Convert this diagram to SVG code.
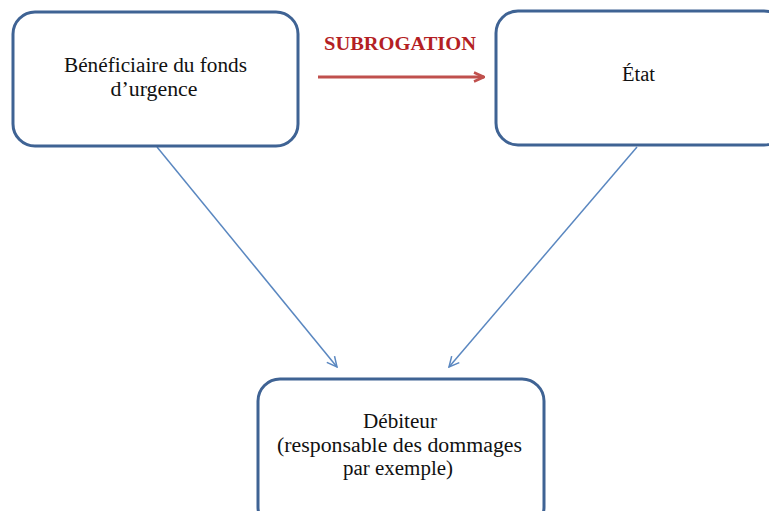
<svg xmlns="http://www.w3.org/2000/svg" width="769" height="511" viewBox="0 0 769 511">
<defs>
<style>
.box{fill:#fff;stroke:#3F6394;stroke-width:3}
.t{font-family:"Liberation Serif","DejaVu Serif",serif;font-size:20px;fill:#111;text-anchor:middle}
.lab{font-family:"Liberation Serif","DejaVu Serif",serif;font-size:18.5px;font-weight:bold;fill:#B41F24;text-anchor:middle}
.c{fill:none;stroke:#5A87C0;stroke-width:1.5}
.r{fill:none;stroke:#C0504D;stroke-width:3}
</style>
<marker id="ab" viewBox="0 0 12 12" refX="11" refY="6" markerWidth="12" markerHeight="12" markerUnits="userSpaceOnUse" orient="auto">
<path d="M1,1 L11,6 L1,11" fill="none" stroke="#5A87C0" stroke-width="1.5"/>
</marker>
<marker id="ar" viewBox="0 0 12 12" refX="11" refY="6" markerWidth="12" markerHeight="12" markerUnits="userSpaceOnUse" orient="auto">
<path d="M1,1.5 L11,6 L1,10.5" fill="none" stroke="#C0504D" stroke-width="2.5"/>
</marker>
</defs>
<rect width="769" height="511" fill="#fff"/>
<g id="connectors">
<line class="c" x1="157" y1="147" x2="337" y2="367" marker-end="url(#ab)"/>
<line class="c" x1="637" y1="147" x2="449" y2="367" marker-end="url(#ab)"/>
<line class="r" x1="318" y1="77" x2="484" y2="77" marker-end="url(#ar)"/>
<text class="lab" x="400" y="50" textLength="152" lengthAdjust="spacingAndGlyphs">SUBROGATION</text>
</g>
<g id="beneficiaire">
<rect class="box" x="13" y="12" width="285" height="134" rx="22"/>
<text class="t" x="155.5" y="72" textLength="183" lengthAdjust="spacingAndGlyphs">Bénéficiaire du fonds</text>
<text class="t" x="154" y="96" textLength="87" lengthAdjust="spacingAndGlyphs">d’urgence</text>
</g>
<g id="etat">
<rect class="box" x="496" y="11" width="290" height="134" rx="22"/>
<text class="t" x="638.5" y="81" textLength="33" lengthAdjust="spacingAndGlyphs">État</text>
</g>
<g id="debiteur">
<rect class="box" x="258" y="379" width="286" height="150" rx="22"/>
<text class="t" x="400" y="428" textLength="74" lengthAdjust="spacingAndGlyphs">Débiteur</text>
<text class="t" x="399.5" y="452" textLength="245" lengthAdjust="spacingAndGlyphs">(responsable des dommages</text>
<text class="t" x="398" y="475" textLength="110" lengthAdjust="spacingAndGlyphs">par exemple)</text>
</g>
</svg>
